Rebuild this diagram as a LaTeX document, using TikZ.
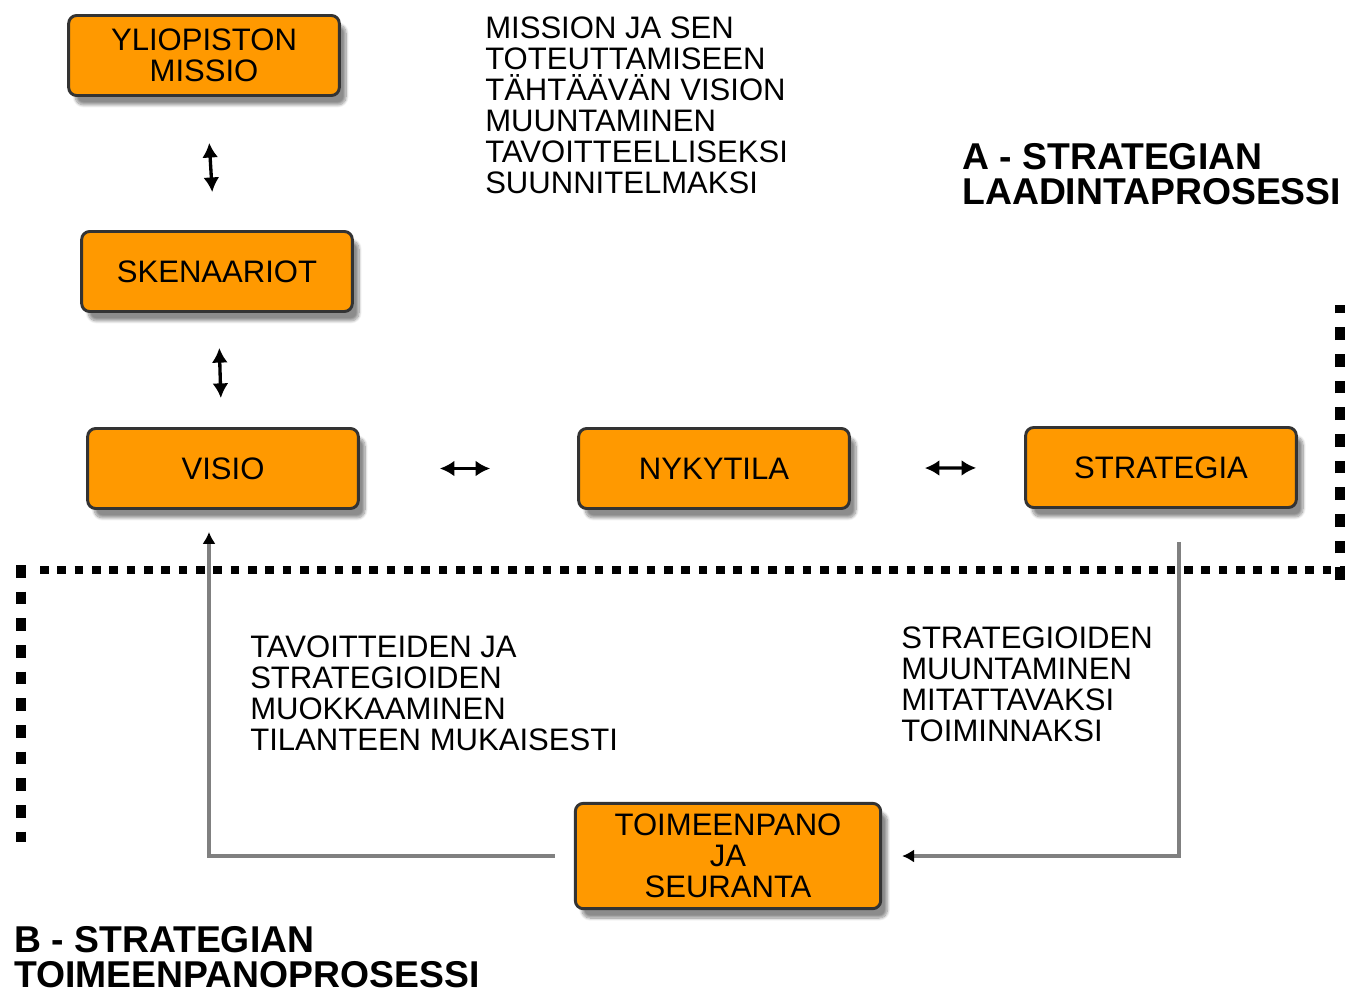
\documentclass[tikz,border=0pt]{standalone}
\usepackage{fontspec}
\setmainfont{Liberation Sans}
\usetikzlibrary{arrows.meta,shadows.blur,calc}

\definecolor{boxorange}{RGB}{255,153,0}
\definecolor{boxline}{RGB}{51,51,51}
\definecolor{loopgray}{RGB}{128,128,128}

\newcommand{\boxfont}{\fontsize{23.3}{23.25}\selectfont}
\newcommand{\headfont}{\bfseries\fontsize{28}{26.5}\selectfont}

\tikzset{
  phasebox/.style={draw=boxline, fill=boxorange, line width=2.2pt, rounded corners=6pt,
    align=center, font=\boxfont, minimum width=203pt, minimum height=60pt, inner sep=0pt,
    blur shadow={shadow xshift=5pt, shadow yshift=-7pt, shadow blur steps=10, shadow opacity=45}},
  twoway/.style={{Latex[length=11pt,width=12pt]}-{Latex[length=11pt,width=12pt]}, line width=2.5pt},
  loopline/.style={draw=loopgray, line width=3pt, -{Latex[length=9pt,width=10pt,color=black]}},
  note/.style={anchor=north west, inner sep=0pt, align=left, font=\boxfont},
  heading/.style={anchor=north west, inner sep=0pt, align=left, font=\headfont},
  hborder/.style={line width=6.5pt, dash pattern={on 6.5pt off 6.5pt}},
  vborder/.style={line width=8pt, dash pattern={on 9.5pt off 10.5pt}},
}

\begin{document}
\begin{tikzpicture}[x=0.75pt,y=0.75pt,yscale=-1,xscale=1]
\useasboundingbox (0,0) rectangle (1345,993);

%Dotted borders
\draw [hborder] (40,570) -- (1345,570) ;
\draw [vborder] (1340,580) -- (1340,305) ;
\draw [vborder] (21,565) -- (21,842) ;

%Boxes
\node [phasebox] (missio) at (204,55.5) {YLIOPISTON\\MISSIO};
\node [phasebox] (skenaariot) at (217,271.5) {SKENAARIOT};
\node [phasebox] (visio) at (223,468.5) {VISIO};
\node [phasebox] (nykytila) at (714,468.5) {NYKYTILA};
\node [phasebox] (strategia) at (1161,467.5) {STRATEGIA};
\node [phasebox, minimum width=229pt, minimum height=79pt] (toimeenpano) at (728,856) {TOIMEENPANO\\JA\\SEURANTA};

%Two-way arrows
\draw [twoway, shorten <=34.5pt, shorten >=28.5pt] (missio) -- (skenaariot) ;
\draw [twoway, shorten <=26.25pt, shorten >=21.75pt] (skenaariot) -- (visio) ;
\draw [twoway, shorten <=60pt, shorten >=65.25pt] (visio) -- (nykytila) ;
\draw [twoway, shorten <=55.5pt, shorten >=36pt] (nykytila) -- (strategia) ;

%Feedback loop
\coordinate (strat-out) at ($(strategia.south)+(18,33)$);
\coordinate (visio-in) at ($(visio.south)+(-14,0)$);
\draw [loopline, shorten >=15pt] (strat-out) |- (toimeenpano.east) ;
\draw [loopline, shorten <=14.25pt, shorten >=16.5pt] (toimeenpano.west) -| (visio-in) ;

% Text Node
\node [note] (missiontext) at (485,17) {MISSION JA SEN\\TOTEUTTAMISEEN\\TÄHTÄÄVÄN VISION\\MUUNTAMINEN\\TAVOITTEELLISEKSI\\SUUNNITELMAKSI};
% Text Node
\node [heading] (parta) at (962,143) {A - STRATEGIAN\\LAADINTAPROSESSI};
% Text Node
\node [note] (muokkaus) at (250,636) {TAVOITTEIDEN JA\\STRATEGIOIDEN\\MUOKKAAMINEN\\TILANTEEN MUKAISESTI};
% Text Node
\node [note] (muuntaminen) at (901,627) {STRATEGIOIDEN\\MUUNTAMINEN\\MITATTAVAKSI\\TOIMINNAKSI};
% Text Node
\node [heading] (partb) at (14,926) {B - STRATEGIAN\\TOIMEENPANOPROSESSI};

\end{tikzpicture}
\end{document}
